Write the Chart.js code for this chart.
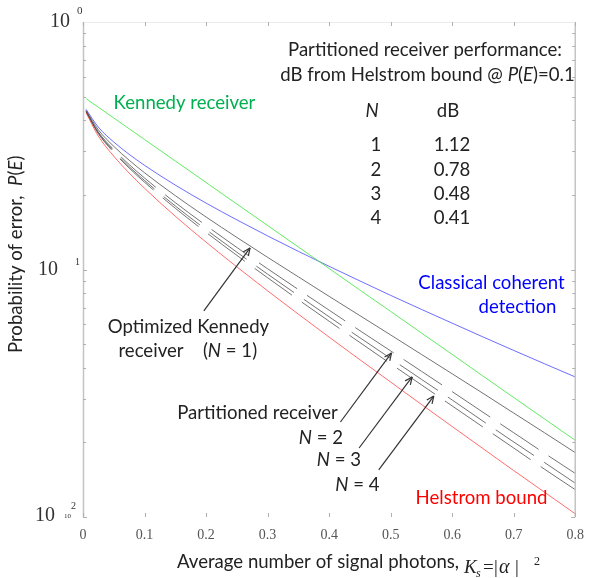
<!DOCTYPE html>
<html><head><meta charset="utf-8">
<script src="https://cdn.jsdelivr.net/npm/chart.js@4.4.1/dist/chart.umd.min.js"></script>
<style>html,body{margin:0;padding:0;background:#fff;}#wrap{width:594px;height:578px;}</style>
</head><body><div id="wrap"><canvas id="c" width="594" height="578"></canvas></div>
<script>
// ---- data ----
const photons    = [0.005,0.025,0.05,0.075,0.1,0.15,0.2,0.25,0.3,0.35,0.4,0.45,0.5,0.55,0.6,0.65,0.7,0.75,0.8];
const kennedy    = [0.4901,0.4524,0.4094,0.3704,0.3352,0.2744,0.2247,0.1839,0.1506,0.1233,0.1009,0.0826,0.0677,0.0554,0.0454,0.0371,0.0304,0.0249,0.0204];
const coherent   = [0.4438,0.3759,0.3274,0.2920,0.2635,0.2193,0.1855,0.1587,0.1367,0.1184,0.1030,0.0899,0.0786,0.0690,0.0607,0.0534,0.0471,0.0416,0.0368];
const helstrom   = [0.4296,0.3457,0.2871,0.2454,0.2129,0.1641,0.1290,0.1025,0.0820,0.0660,0.0533,0.0432,0.0351,0.0285,0.0232,0.0189,0.0154,0.0126,0.0103];
const optKennedy = [0.4398,0.3666,0.3145,0.2765,0.2460,0.1988,0.1630,0.1348,0.1120,0.0934,0.0779,0.0651,0.0544,0.0454,0.0379,0.0316,0.0263,0.0219,0.0182];
const partN2     = [0.4363,0.3593,0.3048,0.2655,0.2342,0.1863,0.1506,0.1228,0.1007,0.0830,0.0685,0.0566,0.0469,0.0388,0.0321,0.0265,0.0219,0.0181,0.0150];
const partN3     = [0.4347,0.3560,0.3004,0.2604,0.2289,0.1806,0.1450,0.1175,0.0958,0.0785,0.0644,0.0530,0.0437,0.0360,0.0297,0.0244,0.0201,0.0166,0.0137];
const partN4     = [0.4336,0.3537,0.2974,0.2570,0.2253,0.1768,0.1413,0.1141,0.0926,0.0755,0.0618,0.0507,0.0416,0.0342,0.0281,0.0231,0.0190,0.0156,0.0129];
const xTicks     = [0,0.1,0.2,0.3,0.4,0.5,0.6,0.7,0.8];
const yDecades   = [1,0.1,0.01];
const yDecadeExp = ['0','1','2'];
const tableN     = ['1','2','3','4'];
const tableDb    = ['1.12','0.78','0.48','0.41'];
// arrow annotations in data coordinates: [tailX, tailY, tipX, tipY]
const arrowOptK  = [0.1964,0.0680,0.2715,0.1222];
const arrowN2    = [0.4184,0.0242,0.5014,0.0460];
const arrowN3    = [0.4487,0.0190,0.5349,0.0368];
const arrowN4    = [0.4806,0.0155,0.5701,0.0308];

const pts = arr => photons.map((x,i)=>({x:x,y:arr[i]}));
const SANS = 'Lato, "Open Sans", sans-serif';
const SERIF = '"Liberation Serif", "Times New Roman", serif';

function line(ctx,x1,y1,x2,y2){ctx.beginPath();ctx.moveTo(x1,y1);ctx.lineTo(x2,y2);ctx.stroke();}
function runsWidth(ctx,runs,size){let w=0;for(const r of runs){ctx.font=(r.i?'italic ':'')+size+'px '+SANS;w+=ctx.measureText(r.t).width;}return w;}
function drawRuns(ctx,runs,cx,base,size,color,align){
  const w=runsWidth(ctx,runs,size);
  let x = align==='left'?cx:cx-w/2;
  ctx.fillStyle=color;ctx.textAlign='left';ctx.textBaseline='alphabetic';
  for(const r of runs){ctx.font=(r.i?'italic ':'')+size+'px '+SANS;ctx.fillText(r.t,x,base);x+=ctx.measureText(r.t).width;}
}
function arrow(ctx,xs,ys,a){
  const x1=xs.getPixelForValue(a[0]),y1=ys.getPixelForValue(a[1]),x2=xs.getPixelForValue(a[2]),y2=ys.getPixelForValue(a[3]);
  ctx.strokeStyle='#333';ctx.lineWidth=1.2;line(ctx,x1,y1,x2,y2);
  const ang=Math.atan2(y2-y1,x2-x1),L=8,sp=0.42;
  line(ctx,x2,y2,x2-L*Math.cos(ang-sp),y2-L*Math.sin(ang-sp));
  line(ctx,x2,y2,x2-L*Math.cos(ang+sp),y2-L*Math.sin(ang+sp));
}

const decor = {
  id:'decor',
  afterDraw(chart){
    const ctx=chart.ctx,a=chart.chartArea,xs=chart.scales.x,ys=chart.scales.y;
    ctx.save();
    // frame
    ctx.strokeStyle='#c4c4c4';ctx.lineWidth=1.5;
    line(ctx,a.left+0.5,a.top,a.left+0.5,a.bottom);
    line(ctx,a.right,a.top,a.right,a.bottom);
    ctx.strokeStyle='#ececec';ctx.lineWidth=1;
    line(ctx,a.left,a.top+0.5,a.right,a.top+0.5);
    // x ticks (inward, top and bottom)
    ctx.strokeStyle='#b0b0b0';ctx.lineWidth=1;
    for(const t of xTicks){const px=Math.round(xs.getPixelForValue(t))+0.5;
      line(ctx,px,a.top,px,a.top+4);line(ctx,px,a.bottom-4,px,a.bottom);}
    // y ticks (log minor), left and right
    for(let d=0;d<yDecades.length-1;d++){
      const base=yDecades[d+1];
      for(let m=1;m<=9;m++){const py=Math.round(ys.getPixelForValue(base*m))+0.5;
        const L=m===1?4:3;line(ctx,a.left,py,a.left+L,py);line(ctx,a.right-L,py,a.right,py);}
    }
    // y tick labels
    const yLay=[{r:70,dy:5,sx:77,sdy:-8,ss:11},{r:58,dy:5.5,sx:75,sdy:-4.5,ss:10},{r:55,dy:4,sx:71,sdy:-8,ss:10}];
    ctx.fillStyle='#333';ctx.textBaseline='alphabetic';
    yDecades.forEach((v,i)=>{const py=ys.getPixelForValue(v),L=yLay[i];
      ctx.font='20px '+SERIF;ctx.textAlign='right';ctx.fillText('10',L.r,py+L.dy);
      ctx.font=L.ss+'px '+SERIF;ctx.textAlign='left';ctx.fillText(yDecadeExp[i],L.sx,py+L.sdy);
      if(i===2){ctx.font='7px '+SERIF;ctx.fillText('10',64,py+1);}
    });
    // font size for annotation text
    ctx.font='100px '+SANS;
    const S=100*274/ctx.measureText('Partitioned receiver performance:').width;
    const K='#222';
    drawRuns(ctx,[{t:'Kennedy receiver'}],184.5,108.5,S,'rgb(0,176,80)');
    drawRuns(ctx,[{t:'Partitioned receiver performance:'}],425,56,S,K);
    drawRuns(ctx,[{t:'dB from Helstrom bound @ '},{t:'P',i:1},{t:'('},{t:'E',i:1},{t:')=0.1'}],427.5,81,S,K);
    drawRuns(ctx,[{t:'N',i:1}],372,117,S,K);
    drawRuns(ctx,[{t:'dB'}],448,117,S,K);
    const rowB=[151,175.5,199.5,223.5];
    tableN.forEach((n,i)=>{drawRuns(ctx,[{t:n}],376,rowB[i],S,K);drawRuns(ctx,[{t:tableDb[i]}],452,rowB[i],S,K);});
    drawRuns(ctx,[{t:'Classical coherent'}],491.5,288.5,S,'rgb(0,0,255)');
    drawRuns(ctx,[{t:'detection'}],517.5,312.5,S,'rgb(0,0,255)');
    drawRuns(ctx,[{t:'Helstrom bound'}],481.5,504,S,'rgb(255,0,0)');
    drawRuns(ctx,[{t:'Optimized Kennedy'}],188.5,333,S,K);
    drawRuns(ctx,[{t:'receiver'}],151,356.5,S,K);
    drawRuns(ctx,[{t:'('},{t:'N',i:1},{t:' = 1)'}],230,356.5,S,K);
    drawRuns(ctx,[{t:'Partitioned receiver'}],257.5,419,S,K);
    drawRuns(ctx,[{t:'N',i:1},{t:' = 2'}],321,443.5,S,K);
    drawRuns(ctx,[{t:'N',i:1},{t:' = 3'}],339,466,S,K);
    drawRuns(ctx,[{t:'N',i:1},{t:' = 4'}],357.5,491,S,K);
    // arrows
    arrow(ctx,xs,ys,arrowOptK);arrow(ctx,xs,ys,arrowN2);arrow(ctx,xs,ys,arrowN3);arrow(ctx,xs,ys,arrowN4);
    // x-axis title
    drawRuns(ctx,[{t:'Average number of signal photons,'}],177,568,S,K,'left');
    ctx.fillStyle=K;ctx.textAlign='left';
    ctx.font='italic 19px '+SERIF;ctx.fillText('K',464,573);
    ctx.font='italic 12px '+SERIF;ctx.fillText('s',476,577);
    ctx.font='19px '+SERIF;ctx.fillText('=',483,573);ctx.fillText('|',494,573);
    ctx.font='italic 20px '+SERIF;ctx.fillText('\u03b1',499,573);
    ctx.font='19px '+SERIF;ctx.fillText('|',515,573);
    ctx.font='12px '+SERIF;ctx.fillText('2',534,565);
    // y-axis title
    ctx.save();ctx.translate(22,353);ctx.rotate(-Math.PI/2);
    drawRuns(ctx,[{t:'Probability of error,  '},{t:'P',i:1},{t:'('},{t:'E',i:1},{t:')'}],0,0,S,K,'left');
    ctx.restore();
    ctx.restore();
  }
};

const ds=(label,arr,color,dash)=>({label:label,data:pts(arr),borderColor:color,borderWidth:1,borderDash:dash||[],
  pointRadius:0,cubicInterpolationMode:'monotone',fill:false});

new Chart(document.getElementById('c'),{
  type:'line',
  data:{datasets:[
    ds('Kennedy receiver',kennedy,'rgba(70,230,70,0.85)'),
    ds('Classical coherent detection',coherent,'rgba(60,60,255,0.75)'),
    ds('Helstrom bound',helstrom,'rgba(255,60,60,0.75)'),
    ds('Optimized Kennedy receiver (N = 1)',optKennedy,'rgba(80,80,80,0.8)'),
    ds('Partitioned receiver N = 2',partN2,'rgba(70,70,70,0.75)',[46,12]),
    ds('Partitioned receiver N = 3',partN3,'rgba(70,70,70,0.75)',[46,12]),
    ds('Partitioned receiver N = 4',partN4,'rgba(70,70,70,0.75)',[46,12])
  ]},
  options:{
    responsive:false,animation:false,devicePixelRatio:1,
    layout:{padding:{top:22,right:10,left:0,bottom:0}},
    plugins:{legend:{display:false},tooltip:{enabled:false}},
    scales:{
      x:{type:'linear',min:0,max:0.8,
        afterBuildTicks:s=>{s.ticks=xTicks.map(v=>({value:v}));},
        afterFit:s=>{s.height=61;},
        grid:{display:false,drawTicks:false},border:{display:false},
        ticks:{padding:10,color:'#555',font:{family:SERIF,size:14},maxRotation:0,autoSkip:false,
          callback:v=>String(v)}},
      y:{type:'logarithmic',min:0.01,max:1,
        afterFit:s=>{s.width=83;},
        grid:{display:false,drawTicks:false},border:{display:false},
        ticks:{display:false}}
    }
  },
  plugins:[decor]
});
</script></body></html>
